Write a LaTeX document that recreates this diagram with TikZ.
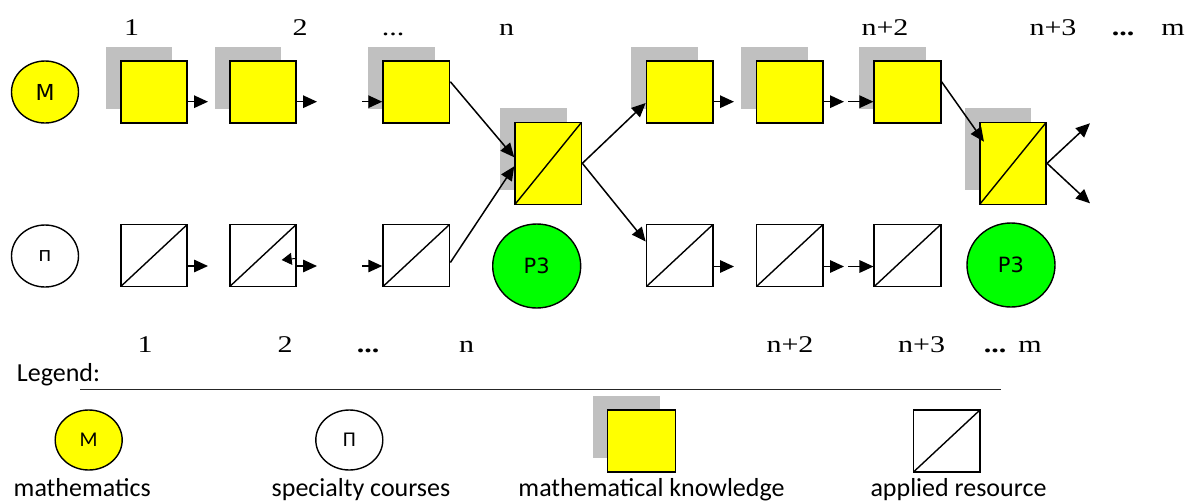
\documentclass[tikz,border=0pt]{standalone}
\usepackage{fontspec}
\setmainfont{Liberation Serif}
\newfontfamily\numfont[FakeStretch=1.25]{Liberation Serif}
\newfontfamily\circfont{DejaVu Sans}
\newfontfamily\legfont{Carlito}
\usetikzlibrary{shadows,arrows.meta,calc,shapes.geometric}
\definecolor{kyellow}{RGB}{255,255,0}
\definecolor{kgreen}{RGB}{0,255,0}
\definecolor{kgray}{RGB}{192,192,192}
\begin{document}
\begin{tikzpicture}[x=1pt,y=-1pt,
  arr/.style={line width=1.5pt,-{Triangle[length=14pt,width=12.5pt]}},
  diag/.style={path picture={\draw[line width=1.4pt] (path picture bounding box.south west) -- (path picture bounding box.north east);}},
  kbox/.style={draw,line width=1.6pt,fill=kyellow,minimum width=66.5pt,minimum height=62pt,inner sep=0pt,
     general shadow={fill=kgray,shadow xshift=-15pt,shadow yshift=14pt}},
  abox/.style={draw,line width=1.6pt,fill=white,minimum width=66.5pt,minimum height=62pt,inner sep=0pt,diag},
  xbox/.style={kbox,minimum height=82pt,diag},
  circ/.style={ellipse,draw,line width=1.4pt,minimum width=67pt,minimum height=62pt,inner sep=0pt,font=\circfont\fontsize{22}{26}\selectfont},
  green/.style={ellipse,draw,line width=1.4pt,fill=kgreen,minimum width=88pt,minimum height=84pt,inner sep=0pt,font=\circfont\fontsize{21}{24}\selectfont},
  lab/.style={anchor=base,inner sep=0pt,font=\numfont\fontsize{24}{28}\selectfont},
  leg/.style={anchor=base,inner sep=0pt,font=\legfont\fontsize{26}{30}\selectfont},
  lcirc/.style={ellipse,draw,line width=1.4pt,minimum width=67pt,minimum height=60pt,inner sep=0pt,font=\legfont\fontsize{21}{24}\selectfont}
]
\useasboundingbox (0,0) rectangle (1195,501);

% left circles
\node[circ,fill=kyellow] (M) at (45,92) {М};
\node[circ,fill=white,font=\circfont\fontsize{20}{24}\selectfont] (P) at (45,256) {п};

% top row
\node[kbox] (T1) at (154,92) {};
\node[kbox] (T2) at (263,92) {};
\node[kbox] (T3) at (416.3,92) {};
\node[kbox] (T4) at (679.7,92) {};
\node[kbox] (T5) at (789.7,92) {};
\node[kbox] (T6) at (907.5,92) {};
% bottom row
\node[abox] (B1) at (154,255.5) {};
\node[abox] (B2) at (263,255.5) {};
\node[abox] (B3) at (416.3,255.5) {};
\node[abox] (B4) at (679.7,255.5) {};
\node[abox] (B5) at (789.7,255.5) {};
\node[abox] (B6) at (907.5,255.5) {};
% mixed boxes
\node[xbox] (X1) at (548.3,163.3) {};
\node[xbox] (X2) at (1013,163.3) {};
% results
\node[green] (R1) at (536.7,266) {Р3};
\node[green] (R2) at (1011,265) {Р3};

% number labels top
\node[lab] (lt1) at (131.7,35) {1};
\node[lab] (lt2) at (300,35) {2};
\node[lab] (lt3) at (393,35) {...};
\node[lab] (lt4) at (506.7,35) {n};
\node[lab] (lt5) at (885,35) {n+2};
\node[lab] (lt6) at (1053,35) {n+3};
\node[lab] (lt7) at (1123,35) {\textbf{...}};
\node[lab] (lt8) at (1173,35) {m};
% number labels bottom
\node[lab] (lb1) at (145,352.5) {1};
\node[lab] (lb2) at (285,352.5) {2};
\node[lab] (lb3) at (368,352.5) {\textbf{...}};
\node[lab] (lb4) at (466.7,352.5) {n};
\node[lab] (lb5) at (790,352.5) {n+2};
\node[lab] (lb6) at (921.7,352.5) {n+3};
\node[lab] (lb7) at (995,352.5) {\textbf{...}};
\node[lab] (lb8) at (1030,352.5) {m};

% free ends
\coordinate (a1) at (208,101.7);
\coordinate (a2) at (317,101.7);
\coordinate (a3) at (362,101.7);
\coordinate (a4) at (734,101.7);
\coordinate (a5) at (844,101.7);
\coordinate (a6) at (848,101.7);
\coordinate (b1) at (208,266);
\coordinate (b2) at (317,266);
\coordinate (b3) at (362,266);
\coordinate (b4) at (734,266.5);
\coordinate (b5) at (844,266.5);
\coordinate (b6) at (848,266.5);
\coordinate (w1) at (295,258.5);
\coordinate (w2) at (281.7,260);
\coordinate (o1) at (1090,123.3);
\coordinate (o2) at (1090,203.3);

% horizontal arrows
\draw[arr] (T1.east|-a1) -- (a1);
\draw[arr] (T2.east|-a2) -- (a2);
\draw[arr] (a3) -- (T3.west|-a3);
\draw[arr] (T4.east|-a4) -- (a4);
\draw[arr] (T5.east|-a5) -- (a5);
\draw[arr] (a6) -- (T6.west|-a6);
\draw[arr] (B1.east|-b1) -- (b1);
\draw[arr] (B2.east|-b2) -- (b2);
\draw[arr] (b3) -- (B3.west|-b3);
\draw[arr] (B4.east|-b4) -- (b4);
\draw[arr] (B5.east|-b5) -- (b5);
\draw[arr] (b6) -- (B6.west|-b6);
\draw[line width=1pt,-{Triangle[length=10pt,width=12pt]}] (w1) -- (w2);

% diagonal arrows
\draw[arr] ([yshift=10.3pt]T3.east) -- ([yshift=6pt]X1.west);
\draw[arr] ([yshift=-7pt]B3.east) -- ([yshift=-3pt]X1.west);
\draw[arr] (X1.east) -- ([yshift=-11pt]T4.west);
\draw[arr] (X1.east) -- ([yshift=14pt]B4.west);
\draw[arr] ([yshift=10.3pt]T6.east) -- ([xshift=5pt,yshift=21.6pt]X2.west);
\draw[arr] (X2.east) -- (o1);
\draw[arr] (X2.east) -- (o2);

% legend
\node[leg,anchor=base west] (lg) at (16.7,381.7) {Legend:};
\coordinate (l1) at (80,389.3);
\coordinate (l2) at (1001,389.3);
\draw[line width=1pt,black!85] (l1) -- (l2);
\node[lcirc,fill=kyellow] (LM) at (88.7,440) {М};
\node[lcirc,fill=white] (LP) at (349.3,440) {П};
\node[kbox,minimum width=67.8pt] (LK) at (641.4,441.2) {};
\node[abox] (LA) at (946.7,441) {};
\node[leg] (t1) at (82.2,496) {mathematics};
\node[leg] (t2) at (361,496) {specialty courses};
\node[leg] (t3) at (651.5,496) {mathematical knowledge};
\node[leg] (t4) at (958.5,496) {applied resource};
\end{tikzpicture}
\end{document}
